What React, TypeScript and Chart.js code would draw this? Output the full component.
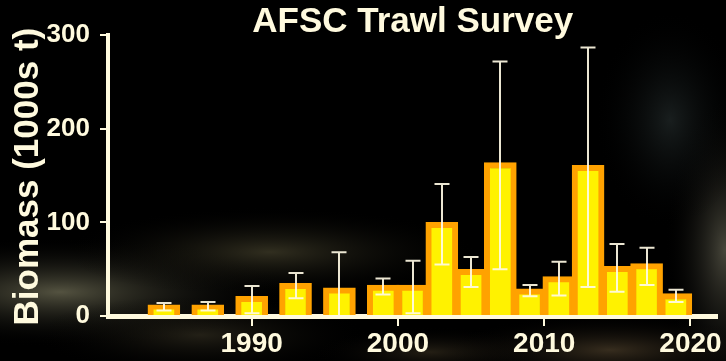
import React, { useEffect, useRef } from "react";
import { Chart, registerables } from "chart.js";

Chart.register(...registerables);

const years = [1984, 1987, 1990, 1993, 1996, 1999, 2001, 2003, 2005, 2007, 2009, 2011, 2013, 2015, 2017, 2019];
const biomass = [12, 12, 21, 35, 30, 33, 33, 100, 50, 164, 29, 42, 161, 53, 56, 24];
const lowerCI = [6, 6, 3, 19, 0, 23, 3, 55, 31, 50, 21, 22, 31, 26, 33, 15];
const upperCI = [14, 15, 32, 46, 68, 40, 59, 141, 63, 272, 33, 58, 287, 77, 73, 28];
const yTicks = [0, 100, 200, 300];
const xTicks = [1990, 2000, 2010, 2020];

const titleText = "AFSC Trawl Survey";
const yTitleText = "Biomass (1000s t)";

const CREAM = "rgb(255,250,222)";
const ORANGE = "rgb(255,162,0)";
const YELLOW = "rgb(255,242,0)";
const FONT = "'Liberation Sans', Arial, sans-serif";

const backgroundPlugin = {
  id: "bgPlugin",
  beforeDraw(chart: any) {
    const { ctx, width, height } = chart;
    ctx.save();
    ctx.fillStyle = "#000";
    ctx.fillRect(0, 0, width, height);
    const blob = (cx: number, cy: number, rx: number, ry: number, color: string) => {
      ctx.save();
      ctx.translate(cx, cy);
      ctx.scale(rx / 100, ry / 100);
      const g = ctx.createRadialGradient(0, 0, 0, 0, 0, 100);
      g.addColorStop(0, color);
      g.addColorStop(1, "rgba(0,0,0,0)");
      ctx.fillStyle = g;
      ctx.beginPath();
      ctx.arc(0, 0, 100, 0, Math.PI * 2);
      ctx.fill();
      ctx.restore();
    };
    blob(60, 292, 230, 55, "rgba(120,118,92,0.7)");
    blob(270, 252, 210, 45, "rgba(90,85,58,0.55)");
    blob(200, 335, 170, 40, "rgba(70,64,45,0.5)");
    blob(725, 250, 60, 150, "rgba(110,108,90,0.65)");
    blob(670, 120, 75, 110, "rgba(45,55,55,0.55)");
    blob(610, 350, 170, 35, "rgba(100,82,55,0.55)");
    blob(430, 352, 120, 25, "rgba(80,68,45,0.45)");
    ctx.restore();
  },
};

const errorBarPlugin = {
  id: "errorBars",
  afterDatasetsDraw(chart: any) {
    const { ctx } = chart;
    const meta = chart.getDatasetMeta(0);
    const yScale = chart.scales.y;
    ctx.save();
    ctx.strokeStyle = "rgba(255,250,228,0.92)";
    ctx.lineWidth = 2;
    const cap = 7.5;
    meta.data.forEach((el: any, i: number) => {
      const x = Math.round(el.x);
      const yl = yScale.getPixelForValue(lowerCI[i]);
      const yu = yScale.getPixelForValue(upperCI[i]);
      ctx.beginPath();
      ctx.moveTo(x, yl);
      ctx.lineTo(x, yu);
      ctx.moveTo(x - cap, yu);
      ctx.lineTo(x + cap, yu);
      ctx.moveTo(x - cap, yl);
      ctx.lineTo(x + cap, yl);
      ctx.stroke();
    });
    ctx.restore();
  },
};

const yTitlePlugin = {
  id: "yTitle",
  afterDraw(chart: any) {
    const { ctx, chartArea } = chart;
    ctx.save();
    ctx.translate(28.5, (chartArea.top + chartArea.bottom) / 2 + 1);
    ctx.rotate(-Math.PI / 2);
    ctx.fillStyle = CREAM;
    ctx.font = `bold 35px ${FONT}`;
    ctx.textAlign = "center";
    ctx.textBaseline = "middle";
    ctx.fillText(yTitleText, 0, 0);
    ctx.restore();
  },
};

export default function App() {
  const ref = useRef<HTMLCanvasElement>(null);

  useEffect(() => {
    if (!ref.current) return;
    const chart = new Chart(ref.current, {
      type: "bar",
      data: {
        datasets: [
          {
            data: years.map((yr, i) => ({ x: yr, y: biomass[i] })),
            backgroundColor: YELLOW,
            borderColor: ORANGE,
            borderWidth: 6,
            borderSkipped: "bottom",
            barThickness: 32,
          },
        ],
      },
      options: {
        responsive: false,
        animation: false,
        layout: { padding: { left: 0, right: 7, top: 0, bottom: 0 } },
        plugins: {
          legend: { display: false },
          tooltip: { enabled: false },
          title: {
            display: true,
            text: titleText,
            color: CREAM,
            fullSize: false,
            font: { family: FONT, weight: "bold", size: 35, lineHeight: 0.75 },
            padding: { top: 9, bottom: 0 },
          },
        },
        scales: {
          x: {
            type: "linear",
            min: 1980.18,
            max: 2021.84,
            offset: false,
            z: 1,
            afterFit(scale: any) {
              scale.height = 45;
            },
            afterBuildTicks(scale: any) {
              scale.ticks = xTicks.map((v) => ({ value: v }));
            },
            grid: {
              offset: false,
              drawOnChartArea: false,
              drawTicks: true,
              tickLength: 10,
              color: CREAM,
              lineWidth: 2,
            },
            border: { display: true, color: CREAM, width: 5 },
            ticks: {
              color: CREAM,
              padding: 4,
              maxRotation: 0,
              autoSkip: false,
              font: { family: FONT, weight: "bold", size: 28, lineHeight: 1 },
              callback: (v: any) => String(v),
            },
          },
          y: {
            type: "linear",
            min: 0,
            max: 300,
            z: 1,
            afterFit(scale: any) {
              scale.width = 108;
            },
            afterBuildTicks(scale: any) {
              scale.ticks = yTicks.map((v) => ({ value: v }));
            },
            grid: {
              drawOnChartArea: false,
              drawTicks: true,
              tickLength: 8,
              color: CREAM,
              lineWidth: 2,
            },
            border: { display: true, color: CREAM, width: 4 },
            ticks: {
              color: CREAM,
              padding: 10,
              font: { family: FONT, weight: "bold", size: 26, lineHeight: 1 },
              callback: (v: any) => String(v),
            },
          },
        },
      },
      plugins: [backgroundPlugin, errorBarPlugin, yTitlePlugin],
    } as any);
    return () => chart.destroy();
  }, []);

  return (
    <div style={{ position: "fixed", left: 0, top: 0, width: 726, height: 361, background: "#000" }}>
      <canvas ref={ref} width={726} height={361} style={{ display: "block", width: 726, height: 361 }} />
    </div>
  );
}
